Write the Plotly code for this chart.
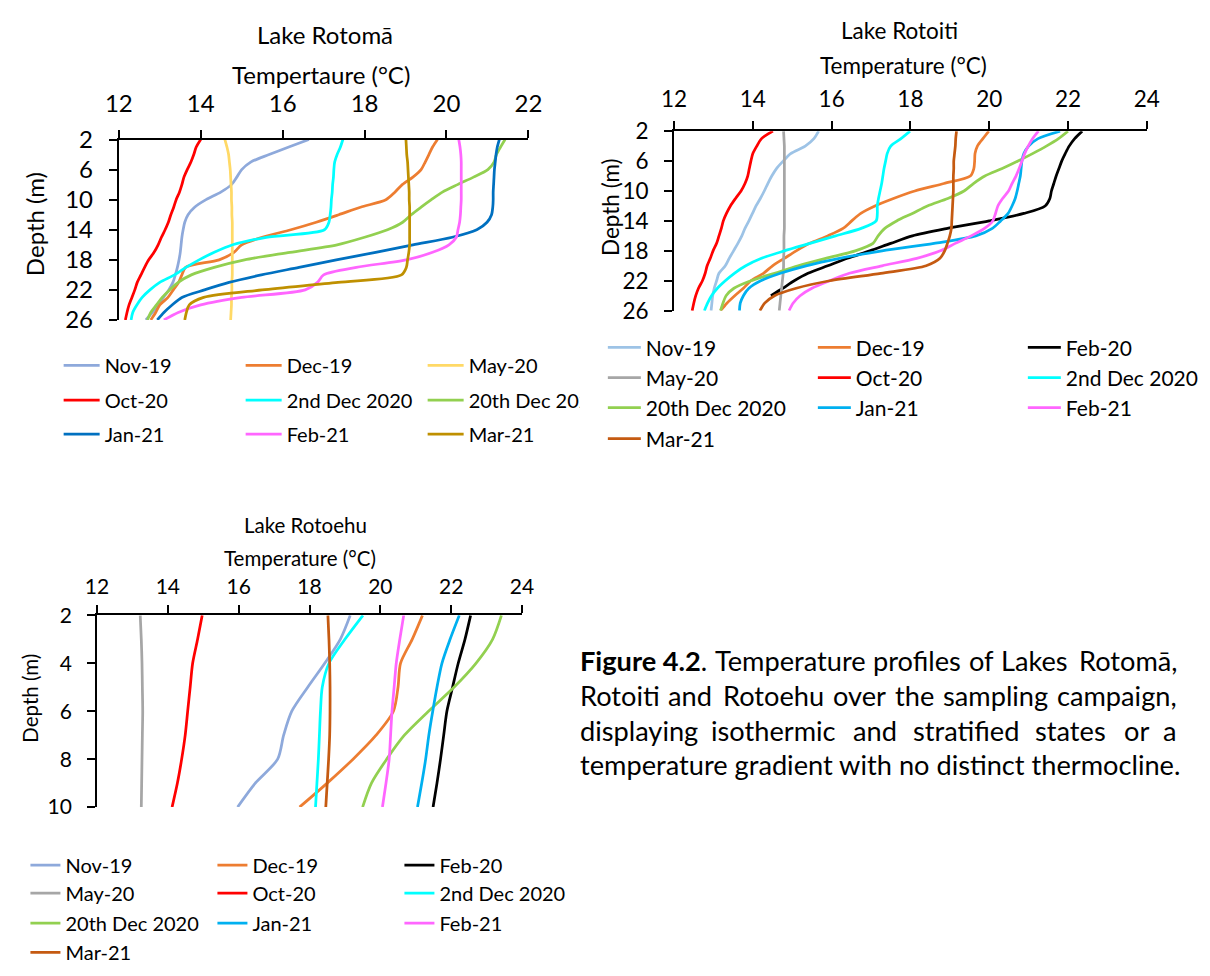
import plotly.graph_objects as go

W, H = 1210, 976
FONT = "Lato"
INK = "#000000"

# ---------------- Lake Rotomā (depth 2–26 m) ----------------
rotoma_depth = list(range(2, 27))
rotoma_nov19 = [16.64, 16.15, 15.67, 15.22, 15.00, 14.88, 14.75, 14.49, 14.13, 13.85, 13.69, 13.61, 13.57,
                13.54, 13.52, 13.50, 13.47, 13.43, 13.38, 13.32, 13.22, 13.09, 12.96, 12.82, 12.66]
rotoma_dec19 = [19.78, 19.66, 19.57, 19.48, 19.38, 19.18, 18.92, 18.74, 18.52, 17.90, 17.37, 16.82, 16.20,
                15.50, 15.00, 14.81, 14.45, 13.63, 13.54, 13.46, 13.33, 13.20, 13.00, 12.90, 12.78]
rotoma_may20 = [14.59, 14.64, 14.68, 14.70, 14.72, 14.73, 14.74, 14.75, 14.75, 14.76, 14.76, 14.77, 14.77,
                14.77, 14.77, 14.77, 14.77, 14.77, 14.77, 14.76, 14.76, 14.75, 14.75, 14.74, 14.73]
rotoma_oct20 = [14.00, 13.89, 13.83, 13.76, 13.67, 13.59, 13.54, 13.48, 13.40, 13.34, 13.27, 13.21, 13.13,
                13.04, 12.96, 12.86, 12.73, 12.63, 12.54, 12.45, 12.39, 12.32, 12.25, 12.20, 12.16]
rotoma_dec2nd = [17.47, 17.41, 17.33, 17.27, 17.25, 17.24, 17.22, 17.21, 17.19, 17.18, 17.16, 17.13, 17.02,
                 15.60, 14.78, 14.33, 13.96, 13.64, 13.36, 13.00, 12.76, 12.57, 12.44, 12.34, 12.30]
rotoma_dec20th = [21.43, 21.32, 21.22, 21.16, 21.01, 20.66, 20.27, 19.90, 19.63, 19.38, 19.14, 18.93, 18.56,
                  18.00, 17.33, 16.18, 15.07, 14.33, 13.77, 13.45, 13.24, 13.06, 12.92, 12.78, 12.70]
rotoma_jan21 = [21.29, 21.24, 21.21, 21.19, 21.17, 21.16, 21.15, 21.14, 21.14, 21.13, 21.10, 20.99, 20.74,
                20.14, 19.18, 18.27, 17.31, 16.40, 15.48, 14.69, 14.09, 13.54, 13.30, 13.10, 12.94]
rotoma_feb21 = [20.30, 20.33, 20.35, 20.36, 20.36, 20.36, 20.36, 20.36, 20.36, 20.35, 20.34, 20.32, 20.28,
                20.24, 20.06, 19.66, 19.02, 17.80, 17.00, 16.85, 16.55, 15.00, 14.00, 13.45, 13.10]
rotoma_mar21 = [19.01, 19.02, 19.03, 19.05, 19.06, 19.07, 19.08, 19.09, 19.09, 19.10, 19.10, 19.10, 19.10,
                19.10, 19.10, 19.08, 19.05, 19.02, 18.90, 17.35, 15.50, 14.07, 13.72, 13.65, 13.61]

# ---------------- Lake Rotoiti (depth 2–26 m) ----------------
rotoiti_depth = list(range(2, 27))
rotoiti_nov19 = [15.67, 15.55, 15.33, 14.96, 14.77, 14.60, 14.48, 14.38, 14.29, 14.19, 14.08, 13.99, 13.90,
                 13.80, 13.72, 13.62, 13.51, 13.40, 13.30, 13.14, 13.08, 13.02, 12.98, 12.96, 12.94]
rotoiti_dec19 = [19.99, 19.84, 19.70, 19.64, 19.63, 19.61, 19.52, 18.85, 18.11, 17.57, 17.10, 16.74, 16.51,
                 16.29, 15.90, 15.44, 15.10, 14.80, 14.50, 14.27, 13.95, 13.76, 13.54, 13.34, 13.18]
rotoiti_feb20 = [22.36, 22.17, 22.03, 21.93, 21.84, 21.77, 21.70, 21.64, 21.58, 21.54, 21.42, 20.88, 20.00,
                 18.94, 18.05, 17.50, 16.97, 16.40, 15.90, 15.40, 15.05, 14.76, 14.46, None, None]
rotoiti_may20 = [14.78, 14.79, 14.80, 14.80, 14.80, 14.80, 14.80, 14.80, 14.80, 14.80, 14.80, 14.80, 14.80,
                 14.80, 14.79, 14.79, 14.79, 14.78, 14.78, 14.77, 14.75, 14.73, 14.71, 14.69, 14.67]
rotoiti_oct20 = [14.51, 14.22, 14.10, 14.00, 13.95, 13.91, 13.87, 13.80, 13.70, 13.56, 13.43, 13.33, 13.25,
                 13.20, 13.14, 13.08, 12.99, 12.92, 12.84, 12.79, 12.72, 12.62, 12.55, 12.50, 12.46]
rotoiti_dec2nd = [17.99, 17.76, 17.50, 17.41, 17.37, 17.33, 17.30, 17.27, 17.23, 17.19, 17.16, 17.16, 17.13,
                  16.75, 16.10, 15.45, 14.80, 14.22, 13.82, 13.53, 13.30, 13.10, 12.95, 12.85, 12.77]
rotoiti_dec20th = [22.00, 21.76, 21.45, 21.10, 20.73, 20.33, 19.89, 19.60, 19.36, 18.95, 18.43, 18.05, 17.65,
                   17.35, 17.18, 17.05, 16.60, 15.85, 15.15, 14.55, 13.95, 13.52, 13.32, 13.24, 13.18]
rotoiti_jan21 = [21.80, 21.24, 21.00, 20.88, 20.83, 20.81, 20.79, 20.75, 20.71, 20.66, 20.58, 20.48, 20.29,
                 20.08, 19.66, 18.60, 17.28, 16.20, 15.35, 14.70, 14.20, 13.90, 13.76, 13.68, 13.66]
rotoiti_feb21 = [21.25, 21.10, 20.99, 20.90, 20.83, 20.76, 20.68, 20.58, 20.49, 20.34, 20.22, 20.16, 20.09,
                 19.88, 19.54, 19.14, 18.76, 18.16, 17.28, 16.45, 15.95, 15.50, 15.20, 15.02, 14.92]
rotoiti_mar21 = [19.17, 19.15, 19.14, 19.12, 19.10, 19.10, 19.09, 19.09, 19.09, 19.08, 19.07, 19.06, 19.05,
                 19.04, 19.00, 18.94, 18.87, 18.75, 18.40, 17.25, 15.95, 15.10, 14.55, 14.30, 14.18]

# ---------------- Lake Rotoehu (depth 2–10 m) ----------------
rotoehu_depth = list(range(2, 11))
rotoehu_nov19 = [19.15, 18.87, 18.43, 17.95, 17.50, 17.27, 17.10, 16.47, 15.97]
rotoehu_dec19 = [21.19, 20.90, 20.57, 20.50, 20.37, 19.88, 19.23, 18.50, 17.72]
rotoehu_feb20 = [22.55, 22.39, 22.20, 22.04, 21.88, 21.79, 21.70, 21.60, 21.49]
rotoehu_may20 = [13.22, 13.25, 13.27, 13.28, 13.29, 13.28, 13.27, 13.26, 13.25]
rotoehu_oct20 = [14.97, 14.84, 14.70, 14.63, 14.56, 14.49, 14.39, 14.27, 14.12]
rotoehu_dec2nd = [19.51, 19.00, 18.55, 18.36, 18.31, 18.28, 18.25, 18.21, 18.17]
rotoehu_dec20th = [23.42, 23.17, 22.70, 22.08, 21.36, 20.68, 20.18, 19.75, 19.50]
rotoehu_jan21 = [22.23, 21.97, 21.74, 21.60, 21.48, 21.37, 21.28, 21.17, 21.05]
rotoehu_feb21 = [20.66, 20.55, 20.45, 20.39, 20.33, 20.29, 20.25, 20.16, 20.06]
rotoehu_mar21 = [18.52, 18.55, 18.57, 18.58, 18.58, 18.57, 18.54, 18.50, 18.46]

rotoma_series = [
    ("Nov-19", rotoma_nov19, "#8EA9DB"),
    ("Dec-19", rotoma_dec19, "#ED7D31"),
    ("May-20", rotoma_may20, "#FFD966"),
    ("Oct-20", rotoma_oct20, "#FF0000"),
    ("2nd Dec 2020", rotoma_dec2nd, "#00FFFF"),
    ("20th Dec 2020", rotoma_dec20th, "#92D050"),
    ("Jan-21", rotoma_jan21, "#0070C0"),
    ("Feb-21", rotoma_feb21, "#FF66FF"),
    ("Mar-21", rotoma_mar21, "#BF9000"),
]
rotoiti_series = [
    ("Nov-19", rotoiti_nov19, "#9DC3E6"),
    ("Dec-19", rotoiti_dec19, "#ED7D31"),
    ("Feb-20", rotoiti_feb20, "#000000"),
    ("May-20", rotoiti_may20, "#A6A6A6"),
    ("Oct-20", rotoiti_oct20, "#FF0000"),
    ("2nd Dec 2020", rotoiti_dec2nd, "#00FFFF"),
    ("20th Dec 2020", rotoiti_dec20th, "#92D050"),
    ("Jan-21", rotoiti_jan21, "#00B0F0"),
    ("Feb-21", rotoiti_feb21, "#FF66FF"),
    ("Mar-21", rotoiti_mar21, "#C55A11"),
]
rotoehu_series = [
    ("Nov-19", rotoehu_nov19, "#8EA9DB"),
    ("Dec-19", rotoehu_dec19, "#ED7D31"),
    ("Feb-20", rotoehu_feb20, "#000000"),
    ("May-20", rotoehu_may20, "#A6A6A6"),
    ("Oct-20", rotoehu_oct20, "#FF0000"),
    ("2nd Dec 2020", rotoehu_dec2nd, "#00FFFF"),
    ("20th Dec 2020", rotoehu_dec20th, "#92D050"),
    ("Jan-21", rotoehu_jan21, "#00B0F0"),
    ("Feb-21", rotoehu_feb21, "#FF66FF"),
    ("Mar-21", rotoehu_mar21, "#C55A11"),
]

temp_ticks_rotoma = [12, 14, 16, 18, 20, 22]
temp_ticks_wide = [12, 14, 16, 18, 20, 22, 24]
depth_ticks_deep = [2, 6, 10, 14, 18, 22, 26]
depth_ticks_shallow = [2, 4, 6, 8, 10]


def px(x):
    return x / W


def py(y):
    return 1 - y / H


# Panel geometry in pixels: plot-area box, fonts and legend layout
panels = [
    dict(series=rotoma_series, depth=rotoma_depth, ax="", box=(107.3, 526.6, 127.3, 313.3),
         xrange=[12, 22], xticks=temp_ticks_rotoma, yrange=[26, 2], yticks=depth_ticks_deep,
         tick_size=24, title_size=24, legend_size=20, xstandoff=8,
         title=("Lake Rotomā", 318, 19), xtitle=("Tempertaure (°C)", 314, 60), ytitle=(21, 215),
         legend_x=45.7, legend_rows=[360, 396, 431], itemwidth=36, entry=131, last_entry=106),
    dict(series=rotoiti_series, depth=rotoiti_depth, ax="2", box=(675.7, 1159.6, 118.7, 303.7),
         xrange=[12, 24], xticks=temp_ticks_wide, yrange=[26, 2], yticks=depth_ticks_deep,
         tick_size=22.5, title_size=22.5, legend_size=21, xstandoff=5,
         title=("Lake Rotoiti", 906, 15), xtitle=("Temperature (°C)", 911, 51), ytitle=(610, 197),
         legend_x=602.8, legend_rows=[342, 373, 404, 436], itemwidth=33, entry=162, last_entry=139),
    dict(series=rotoehu_series, depth=rotoehu_depth, ax="3", box=(85.0, 520.0, 617.7, 815.3),
         xrange=[12, 24], xticks=temp_ticks_wide, yrange=[10, 2], yticks=depth_ticks_shallow,
         tick_size=21, title_size=20.5, legend_size=20, xstandoff=3,
         title=("Lake Rotoehu", 298, 525), xtitle=("Temperature (°C)", 293, 559), ytitle=(17, 703),
         legend_x=11.7, legend_rows=[875, 904, 935, 965], itemwidth=30, entry=142, last_entry=142),
]

fig = go.Figure()
layout = dict(
    width=W, height=H, margin=dict(l=0, r=0, t=0, b=0, pad=0),
    paper_bgcolor="white", plot_bgcolor="white", showlegend=True,
    font=dict(family=FONT, color=INK),
)
annotations = []
legend_no = 0


def text_note(text, x, y, size, xanchor="center", angle=0):
    return dict(text=text, x=px(x), y=py(y), xref="paper", yref="paper",
                xanchor=xanchor, yanchor="middle", showarrow=False, textangle=angle,
                font=dict(family=FONT, size=size, color=INK))


for p in panels:
    x0, x1, y0, y1 = p["box"]
    xa = "xaxis" + p["ax"]
    ya = "yaxis" + p["ax"]
    layout[xa] = dict(
        domain=[px(x0), px(x1)], range=p["xrange"], side="top", anchor="y" + p["ax"],
        tickmode="array", tickvals=p["xticks"], ticks="outside", ticklen=8, tickwidth=2,
        tickcolor=INK, showline=True, linecolor=INK, linewidth=2, showgrid=False,
        zeroline=False, ticklabelstandoff=p["xstandoff"],
        tickfont=dict(family=FONT, size=p["tick_size"], color=INK), fixedrange=True,
    )
    layout[ya] = dict(
        domain=[py(y1), py(y0)], range=p["yrange"], anchor="x" + p["ax"],
        tickmode="array", tickvals=p["yticks"], ticks="outside", ticklen=8, tickwidth=2,
        tickcolor=INK, showline=True, linecolor=INK, linewidth=2, showgrid=False,
        zeroline=False, ticklabelstandoff=11,
        tickfont=dict(family=FONT, size=p["tick_size"], color=INK), fixedrange=True,
    )

    # one legend per row, three entries per row
    row_ids = []
    for row_y in p["legend_rows"]:
        legend_no += 1
        lid = "legend" if legend_no == 1 else f"legend{legend_no}"
        row_ids.append(lid)
        layout[lid] = dict(
            x=px(p["legend_x"]), y=py(row_y), xanchor="left", yanchor="middle",
            orientation="h", itemwidth=p["itemwidth"], entrywidth=p["entry"],
            entrywidthmode="pixels", bgcolor="rgba(0,0,0,0)", borderwidth=0,
            font=dict(family=FONT, size=p["legend_size"], color=INK),
            traceorder="normal", tracegroupgap=0, itemclick=False, itemdoubleclick=False,
        )

    for i, (name, temps, color) in enumerate(p["series"]):
        col = i % 3
        fig.add_trace(go.Scatter(
            x=temps, y=p["depth"], name=name, mode="lines",
            line=dict(color=color, width=2.75, shape="spline", smoothing=0.8),
            xaxis="x" + p["ax"], yaxis="y" + p["ax"],
            legend=row_ids[i // 3],
            legendwidth=p["last_entry"] if col == 2 else p["entry"],
            connectgaps=False, hoverinfo="x+y+name",
        ))

    t, tx, ty = p["title"]
    annotations.append(text_note(t, tx, ty, p["title_size"]))
    t, tx, ty = p["xtitle"]
    annotations.append(text_note(t, tx, ty, p["title_size"]))
    tx, ty = p["ytitle"]
    annotations.append(text_note("Depth (m)", tx, ty, p["title_size"], angle=-90))

# Figure caption set as a justified paragraph: first word flush left,
# last word flush right, inner words centred on their slots (pixels)
CAP_SIZE = 27.2
caption_lines = [
    (664, (577, "<b>Figure 4.2</b>."),
     [(795, "Temperature"), (924, "profiles"), (990, "of"), (1045, "Lakes")],
     (1193, "Rotomā,")),
    (700, (577, "Rotoiti"),
     [(692, "and"), (778, "Rotoehu"), (866, "over"), (922, "the"), (1005, "sampling")],
     (1193, "campaign,")),
    (736, (577, "displaying"),
     [(777, "isothermic"), (881, "and"), (975, "stratified"), (1082, "states"), (1149, "or")],
     (1193, "a")),
]
for yline, first, middle, last in caption_lines:
    annotations.append(text_note(first[1], first[0], yline, CAP_SIZE, xanchor="left"))
    for xw, w in middle:
        annotations.append(text_note(w, xw, yline, CAP_SIZE, xanchor="center"))
    annotations.append(text_note(last[1], last[0], yline, CAP_SIZE, xanchor="right"))
annotations.append(text_note("temperature gradient with no distinct thermocline.",
                             577, 771, CAP_SIZE, xanchor="left"))

layout["annotations"] = annotations
fig.update_layout(**layout)

fig.write_html("out.html", config={"displayModeBar": False},
               post_script="document.body.style.margin='0';")
